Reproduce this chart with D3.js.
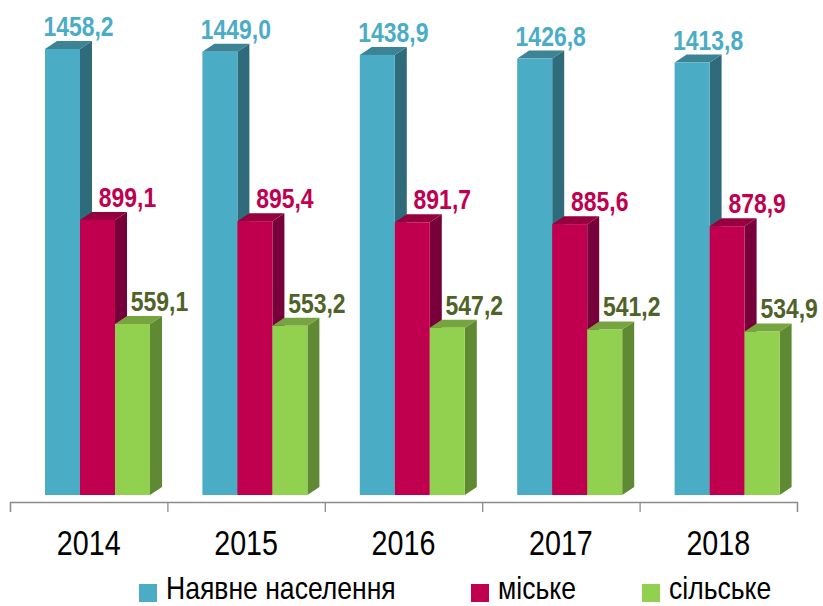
<!DOCTYPE html>
<html>
<head>
<meta charset="utf-8">
<script src="https://cdn.jsdelivr.net/npm/d3@7"></script>
<style>
  body { margin: 0; background: #fff; }
  text { font-family: "Liberation Sans Narrow", "Arial Narrow", "Liberation Sans", sans-serif; }
</style>
</head>
<body>
<div id="chart"></div>
<script>
var svgWidth = 823;
var svgHeight = 606;

// data
var years = ["2014", "2015", "2016", "2017", "2018"];
var seriesNames = ["Наявне населення", "міське", "сільське"];
var total = [1458.2, 1449.0, 1438.9, 1426.8, 1413.8];
var urban = [899.1, 895.4, 891.7, 885.6, 878.9];
var rural = [559.1, 553.2, 547.2, 541.2, 534.9];

var front = ["#4BACC6", "#C0004F", "#92D050"];
var side = ["#2F6B7B", "#78003A", "#5F8A33"];
var top_ = ["#3C8396", "#96003F", "#76A53F"];
var labelColor = ["#4BACC6", "#C0004F", "#4F6228"];
var labelShift = [16, 30, 27];

var baseY = 495;
var dx = 12, dy = 8;
var narrow = 0.82; // no narrow font installed, squeeze the normal one

var svg = d3.select("#chart").append("svg")
  .attr("width", svgWidth)
  .attr("height", svgHeight);

var x = d3.scaleBand().domain(years).range([10, 797]);
var xInner = d3.scaleBand().domain(d3.range(3)).range([35, 140]);
var y = d3.scaleLinear().domain([0, 1500]).range([baseY, baseY - 1500 * 446 / 1458.2]);

// axis line with ticks at category boundaries
var edge = d3.scaleLinear().domain([0, 5]).range([10, 797]);
var axisG = svg.append("g")
  .attr("transform", "translate(0, 502)")
  .call(d3.axisBottom(edge).ticks(5).tickSize(10).tickFormat(""));
axisG.selectAll("line, path").attr("stroke", "#8c8c8c").attr("stroke-width", 1.3);

var labelAxis = svg.append("g")
  .attr("transform", "translate(0, 502)")
  .call(d3.axisBottom(x).tickSize(0));
labelAxis.select(".domain").remove();
labelAxis.selectAll("text")
  .attr("y", 0).attr("dy", null)
  .attr("transform", `translate(0, 53) scale(${narrow}, 1)`)
  .attr("font-size", 35)
  .attr("font-family", "'Liberation Sans Narrow', 'Liberation Sans', sans-serif")
  .attr("fill", "#000");

// bars
var rows = years.map(function (yr, i) {
  return [total[i], urban[i], rural[i]].map(function (v, s) {
    return { year: yr, s: s, value: v };
  });
});

var groups = svg.selectAll(".yr")
  .data(rows)
  .enter().append("g")
  .attr("class", "yr");

var bars = groups.selectAll(".bar")
  .data(d => d)
  .enter().append("g")
  .attr("class", "bar");

bars.each(function (d) {
  var g = d3.select(this);
  var x0 = x(d.year) + xInner(d.s);
  var x1 = x0 + xInner.bandwidth();
  var yt = y(d.value);
  g.append("polygon")
    .attr("points", [[x1, yt], [x1 + dx, yt - dy], [x1 + dx, baseY - dy], [x1, baseY]].join(" "))
    .attr("fill", side[d.s]);
  g.append("polygon")
    .attr("points", [[x0, yt], [x0 + dx, yt - dy], [x1 + dx, yt - dy], [x1, yt]].join(" "))
    .attr("fill", top_[d.s]);
  g.append("rect")
    .attr("x", x0).attr("y", yt)
    .attr("width", x1 - x0).attr("height", baseY - yt)
    .attr("fill", front[d.s]);
  g.append("text")
    .attr("transform", `translate(${(x0 + x1) / 2 + labelShift[d.s]}, ${yt - 13}) scale(${narrow}, 1)`)
    .attr("text-anchor", "middle")
    .attr("font-size", 28)
    .attr("font-weight", "bold")
    .attr("fill", labelColor[d.s])
    .text(d.value.toFixed(1).replace(".", ","));
});

// legend
var legendX = [139, 471, 642];
var legend = svg.selectAll(".legend")
  .data(seriesNames)
  .enter().append("g")
  .attr("class", "legend")
  .attr("transform", (d, i) => `translate(${legendX[i]}, 584)`);
legend.append("rect")
  .attr("width", 18).attr("height", 18)
  .attr("fill", (d, i) => front[i]);
legend.append("text")
  .attr("transform", "translate(27, 15) scale(0.83, 1)")
  .attr("font-size", 32)
  .attr("fill", "#000")
  .text(d => d);
</script>
</body>
</html>
